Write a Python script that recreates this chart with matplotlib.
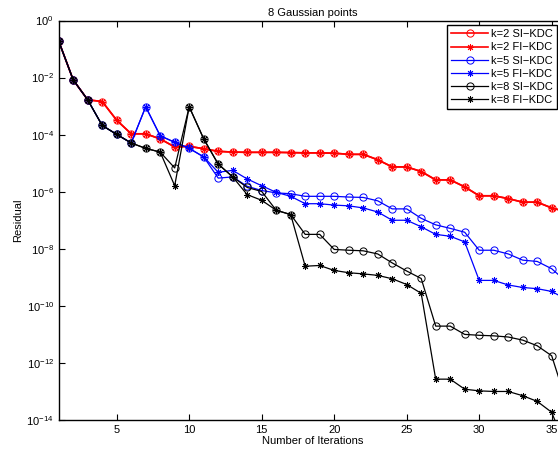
import numpy as np
import matplotlib.pyplot as plt

plt.rcParams['font.family'] = ['Liberation Sans', 'DejaVu Sans']
plt.rcParams['mathtext.fontset'] = 'custom'
plt.rcParams['mathtext.rm'] = 'Liberation Sans'
plt.rcParams['mathtext.it'] = 'Liberation Sans:italic'

###################################################
# Data (residuals)
###################################################
iters = list(range(1, 37))

k2_si = [1.9e-1, 8.3e-3, 1.66e-3, 1.45e-3, 3.2e-4, 1.07e-4, 1.07e-4, 7.1e-5, 3.7e-5, 3.9e-5,
         3.2e-5, 2.6e-5, 2.45e-5, 2.4e-5, 2.4e-5, 2.4e-5, 2.35e-5, 2.3e-5, 2.3e-5, 2.24e-5,
         2.04e-5, 2.04e-5, 1.32e-5, 7.4e-6, 7.4e-6, 5.1e-6, 2.6e-6, 2.6e-6, 1.48e-6, 7.2e-7,
         7.2e-7, 5.75e-7, 4.3e-7, 4.3e-7, 2.7e-7, 2.0e-7]
k2_fi = list(k2_si)

k5_si = [1.9e-1, 8.3e-3, 1.66e-3, 2.1e-4, 1.02e-4, 5.1e-5, 9.5e-4, 9.1e-5, 5.4e-5, 3.3e-5,
         1.66e-5, 3.0e-6, 3.3e-6, 1.55e-6, 1.1e-6, 9.1e-7, 8.5e-7, 6.9e-7, 6.9e-7, 6.9e-7,
         6.5e-7, 6.3e-7, 4.8e-7, 2.5e-7, 2.5e-7, 1.17e-7, 6.9e-8, 5.2e-8, 3.8e-8, 8.9e-9,
         8.9e-9, 6.6e-9, 4.0e-9, 3.6e-9, 2.0e-9, 7.1e-10]
k5_fi = [1.9e-1, 8.3e-3, 1.66e-3, 2.1e-4, 1.02e-4, 5.1e-5, 9.5e-4, 9.1e-5, 5.4e-5, 3.3e-5,
         1.66e-5, 4.8e-6, 5.6e-6, 2.8e-6, 1.62e-6, 9.5e-7, 6.9e-7, 3.8e-7, 3.8e-7, 3.4e-7,
         3.2e-7, 2.7e-7, 1.95e-7, 1.0e-7, 1.0e-7, 5.9e-8, 3.2e-8, 2.75e-8, 1.74e-8, 7.8e-10,
         7.8e-10, 5.4e-10, 4.4e-10, 4.0e-10, 3.2e-10, 1.7e-10]

k8_si = [1.9e-1, 8.3e-3, 1.66e-3, 2.1e-4, 1.02e-4, 5.1e-5, 3.3e-5, 2.45e-5, 6.8e-6, 9.5e-4,
         7.1e-5, 9.3e-6, 3.3e-6, 1.41e-6, 1.02e-6, 2.24e-7, 1.58e-7, 3.2e-8, 3.2e-8, 9.5e-9,
         8.9e-9, 8.5e-9, 6.6e-9, 3.2e-9, 1.66e-9, 9.1e-10, 1.95e-11, 1.95e-11, 1.0e-11, 9.3e-12,
         8.9e-12, 8.1e-12, 6.3e-12, 4.0e-12, 1.78e-12, 4.5e-14]
k8_fi = [1.9e-1, 8.3e-3, 1.66e-3, 2.1e-4, 1.02e-4, 5.1e-5, 3.3e-5, 2.45e-5, 1.62e-6, 9.5e-4,
         7.1e-5, 9.3e-6, 3.3e-6, 7.9e-7, 5.0e-7, 2.24e-7, 1.58e-7, 2.45e-9, 2.6e-9, 1.74e-9,
         1.45e-9, 1.32e-9, 1.17e-9, 8.9e-10, 5.6e-10, 2.75e-10, 2.7e-13, 2.7e-13, 1.2e-13, 1.05e-13,
         1.0e-13, 1.0e-13, 7.1e-14, 4.5e-14, 1.86e-14, 1.0e-15]

series = [
    ("k=2 SI\u2212KDC", k2_si, "red", "o"),
    ("k=2 FI\u2212KDC", k2_fi, "red", (8, 2, 0)),
    ("k=5 SI\u2212KDC", k5_si, "blue", "o"),
    ("k=5 FI\u2212KDC", k5_fi, "blue", (8, 2, 0)),
    ("k=8 SI\u2212KDC", k8_si, "black", "o"),
    ("k=8 FI\u2212KDC", k8_fi, "black", (8, 2, 0)),
]

###################################################
# Plot
###################################################
W, H = 558, 455
fig = plt.figure(figsize=(W / 100, H / 100), dpi=100)
x_left, x_right = 58.7, 566.2
y_top, y_bot = 20.5, 420.0
ax = fig.add_axes([x_left / W, 1 - y_bot / H, (x_right - x_left) / W, (y_bot - y_top) / H])

for label, vals, color, marker in series:
    lw = 1.2 if color == "red" else 0.9
    ms = 5.2 if marker == "o" else 4.8
    ax.plot(iters, vals, color=color, marker=marker, mfc="none", mec=color,
            mew=0.7, ms=ms, lw=lw, label=label, clip_on=True)

ax.set_yscale("log")
ax.set_xlim(1, 36)
ax.set_ylim(1e-14, 1e0)
ax.set_xticks([5, 10, 15, 20, 25, 30, 35])
ax.set_yticks([10.0 ** p for p in range(-14, 1, 2)])
ax.yaxis.set_minor_locator(plt.NullLocator())
ax.tick_params(direction="in", labelsize=8, length=4, width=0.8, top=True, right=True)
for sp in ax.spines.values():
    sp.set_linewidth(1.0)

ax.set_xlabel("Number of Iterations", fontsize=8, labelpad=1)
ax.set_ylabel("Residual", fontsize=8, labelpad=2)
ax.set_title("8 Gaussian points", fontsize=8, pad=3)

leg = ax.legend(loc="upper right", bbox_to_anchor=(557 / W, 1 - 25.5 / H),
                bbox_transform=fig.transFigure, borderaxespad=0, fontsize=8,
                handlelength=3.3, handletextpad=0.3, labelspacing=0.28,
                borderpad=0.35, numpoints=1, fancybox=False, framealpha=1,
                edgecolor="black")
leg.get_frame().set_linewidth(1.0)

fig.savefig("out.png", dpi=100)
